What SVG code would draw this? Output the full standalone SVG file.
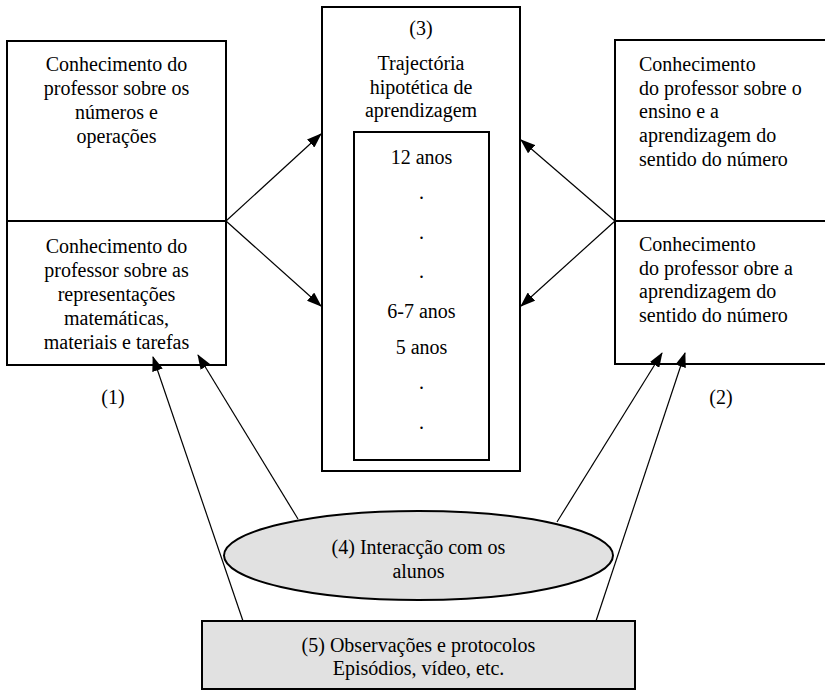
<svg xmlns="http://www.w3.org/2000/svg" width="825" height="690" viewBox="0 0 825 690">
<style>
  text { font-family: "Liberation Serif", "Times New Roman", serif; font-size: 20px; fill: #000; }
  .c { text-anchor: middle; }
  .box { fill: #fff; stroke: #000; stroke-width: 2; }
  .grey { fill: #e1e1e1; stroke: #000; stroke-width: 2; }
  .conn line { stroke: #000; stroke-width: 1.2; marker-end: url(#arrow); }
</style>
<defs>
  <marker id="arrow" markerUnits="userSpaceOnUse" markerWidth="15" markerHeight="11" refX="14" refY="5.5" orient="auto">
    <path d="M0,0 L15,5.5 L0,11 z" fill="#000"/>
  </marker>
</defs>
<rect width="825" height="690" fill="#fff"/>

<g id="node1">
  <rect class="box" x="7" y="41" width="219" height="324"/>
  <line x1="7" y1="221" x2="226" y2="221" stroke="#000" stroke-width="2"/>
  <text class="c" x="116.5" y="71">Conhecimento do</text>
  <text class="c" x="116.5" y="95">professor sobre os</text>
  <text class="c" x="116.5" y="119">números e</text>
  <text class="c" x="116.5" y="143">operações</text>
  <text class="c" x="116.5" y="253">Conhecimento do</text>
  <text class="c" x="116.5" y="277">professor sobre as</text>
  <text class="c" x="116.5" y="301">representações</text>
  <text class="c" x="116.5" y="325">matemáticas,</text>
  <text class="c" x="116.5" y="349">materiais e tarefas</text>
  <text class="c" x="113" y="404">(1)</text>
</g>

<g id="node3">
  <rect class="box" x="322" y="7" width="198" height="464"/>
  <text class="c" x="421" y="35">(3)</text>
  <text class="c" x="421" y="70">Trajectória</text>
  <text class="c" x="421" y="94">hipotética de</text>
  <text class="c" x="421" y="117">aprendizagem</text>
  <rect class="box" x="354" y="132" width="135" height="328"/>
  <text class="c" x="421.5" y="164">12 anos</text>
  <text class="c" x="421.5" y="199">.</text>
  <text class="c" x="421.5" y="239">.</text>
  <text class="c" x="421.5" y="278">.</text>
  <text class="c" x="421.5" y="318">6-7 anos</text>
  <text class="c" x="421.5" y="354">5 anos</text>
  <text class="c" x="421.5" y="389">.</text>
  <text class="c" x="421.5" y="429">.</text>
</g>

<g id="node2">
  <rect class="box" x="615" y="40" width="220" height="324"/>
  <line x1="615" y1="221" x2="825" y2="221" stroke="#000" stroke-width="2"/>
  <text x="639" y="71">Conhecimento</text>
  <text x="639" y="95">do professor sobre o</text>
  <text x="639" y="118">ensino e a</text>
  <text x="639" y="142">aprendizagem do</text>
  <text x="639" y="166">sentido do número</text>
  <text x="639" y="251">Conhecimento</text>
  <text x="639" y="275">do professor obre a</text>
  <text x="639" y="298">aprendizagem do</text>
  <text x="639" y="322">sentido do número</text>
  <text class="c" x="721" y="404">(2)</text>
</g>

<g id="node4">
  <ellipse class="grey" cx="418.5" cy="555.5" rx="194.5" ry="44.5"/>
  <text class="c" x="418.5" y="554">(4) Interacção com os</text>
  <text class="c" x="418.5" y="578">alunos</text>
</g>

<g id="node5">
  <rect class="grey" x="202" y="621" width="433" height="68"/>
  <text class="c" x="418.5" y="652">(5) Observações e protocolos</text>
  <text class="c" x="418.5" y="675">Episódios, vídeo, etc.</text>
</g>

<g id="connectors" class="conn">
  <line x1="226" y1="221" x2="321" y2="134"/>
  <line x1="226" y1="221" x2="321" y2="306"/>
  <line x1="615" y1="221" x2="521" y2="140"/>
  <line x1="615" y1="221" x2="521" y2="306"/>
  <line x1="243" y1="621" x2="153" y2="357"/>
  <line x1="298" y1="519" x2="198" y2="355"/>
  <line x1="557" y1="522" x2="662" y2="353"/>
  <line x1="596" y1="621" x2="685" y2="353"/>
</g>
</svg>
